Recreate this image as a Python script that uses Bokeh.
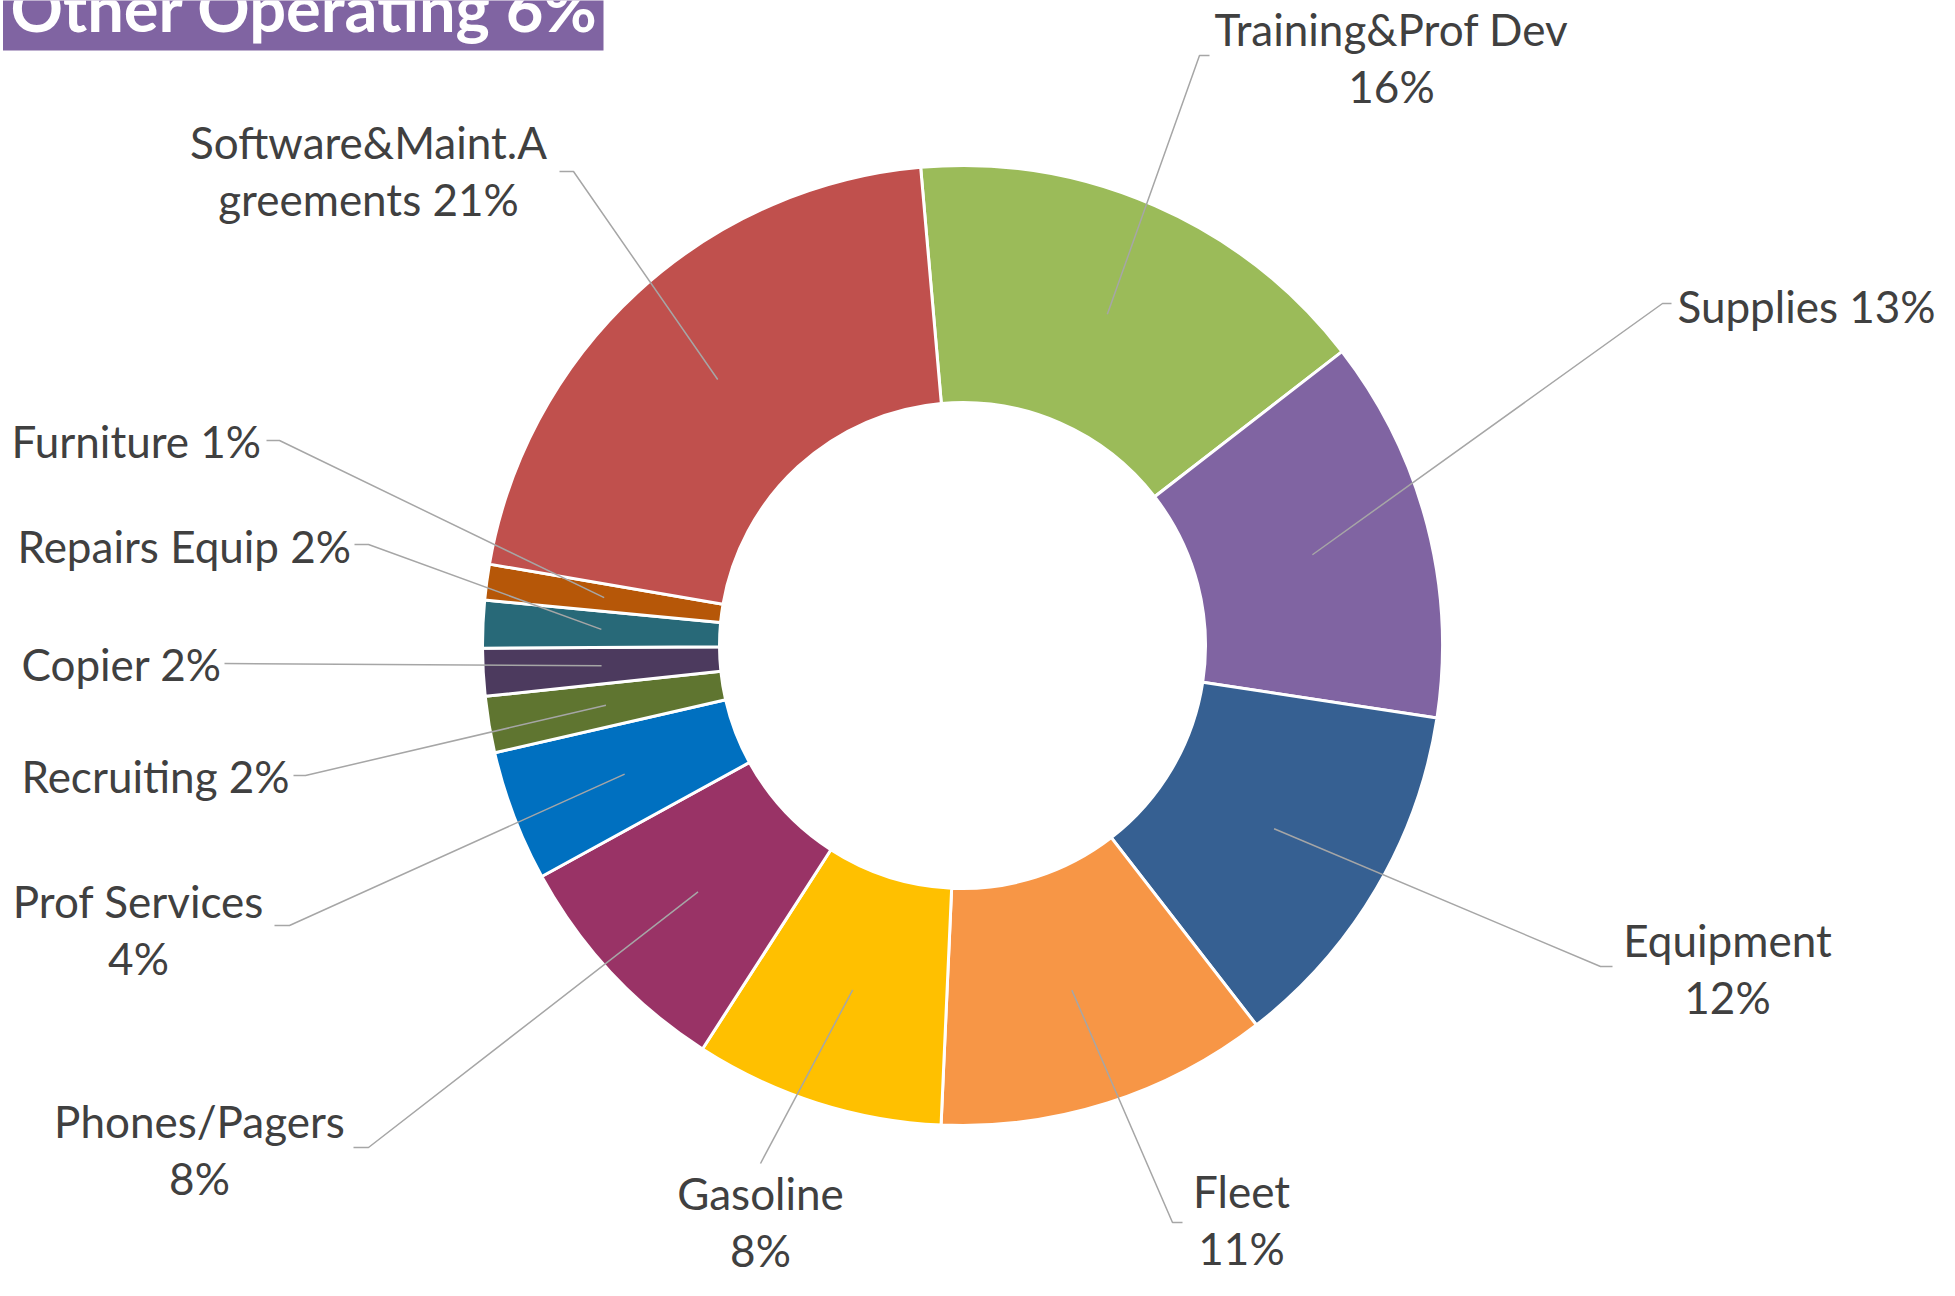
import numpy as np
from bokeh.plotting import figure
from bokeh.models import ColumnDataSource, Range1d, Label
from bokeh.embed import file_html
from bokeh.resources import INLINE
from bokeh.core.properties import value

# ---------------- data ----------------
categories = ["Training&Prof Dev", "Supplies", "Equipment", "Fleet", "Gasoline",
              "Phones/Pagers", "Prof Services", "Recruiting", "Copier",
              "Repairs Equip", "Furniture", "Software&Maint.Agreements"]
shares = [15.9, 12.9, 12.1, 11.2, 8.4, 7.9, 4.4, 1.9, 1.6, 1.6, 1.2, 20.9]
label_texts = ["Training&Prof Dev\n16%", "Supplies 13%", "Equipment\n12%", "Fleet\n11%",
               "Gasoline\n8%", "Phones/Pagers\n8%", "Prof Services\n4%", "Recruiting 2%",
               "Copier 2%", "Repairs Equip 2%", "Furniture 1%",
               "Software&Maint.A\ngreements 21%"]
colors = ["#9BBB59", "#8064A2", "#366092", "#F79646", "#FFC000", "#993366",
          "#0070C0", "#5F7530", "#4C3A5E", "#286978", "#B65708", "#C0504D"]
title_text = "Other Operating 6%"

# ---------------- layout (reference pixel coords, y down) ----------------
W, H = 1955, 1296
PW, PH = 1939, 1280
CX, CY = 962.0, 645.0
R_OUT, R_IN = 480.0, 243.0
START_DEG = -5.0  # first slice starts 5 deg left of 12 o'clock

# label anchor: (x, y of first line, align)
label_pos = [(1391, 28, "center"), (1677, 305, "left"), (1727, 939, "center"),
             (1241, 1190, "center"), (760, 1192, "center"), (199, 1120, "center"),
             (138, 900, "center"), (21, 775, "left"), (21, 663, "left"),
             (17, 545, "left"), (11, 440, "left"), (368, 141, "center")]
# leader: elbow point and end point
leader_pts = [((1199, 55), (1209, 55)), ((1662, 303), (1671, 303)),
              ((1600, 966), (1612, 966)), ((1172, 1222), (1182, 1222)),
              ((760, 1163), (760, 1163)), ((368, 1147), (353, 1147)),
              ((289, 925), (274, 925)), ((305, 775), (293, 775)),
              ((224, 663), (224, 663)), ((368, 544), (354, 544)),
              ((279, 440), (266, 440)), ((573, 171), (559, 171))]
LINE_GAP = 57

# ---------------- geometry from data ----------------
vals = np.array(shares, dtype=float)
frac = vals / vals.sum()
theta_end = START_DEG + np.cumsum(frac) * 360.0
theta_start = theta_end - frac * 360.0
start_ang = np.radians(90.0 - theta_end)
end_ang = np.radians(90.0 - theta_start)

yc = H - CY
wedges = ColumnDataSource(dict(start=start_ang, end=end_ang, color=colors, cat=categories))

p = figure(width=PW, height=PH, x_range=Range1d(0, PW), y_range=Range1d(H - PH, H),
           output_backend="svg", toolbar_location=None, min_border=0)
p.axis.visible = False
p.grid.visible = False
p.outline_line_color = None
p.background_fill_color = "white"

p.annular_wedge(x=CX, y=yc, inner_radius=R_IN, outer_radius=R_OUT,
                start_angle="start", end_angle="end", fill_color="color",
                line_color="white", line_width=3, source=wedges)

# leader lines
mid = np.radians((theta_start + theta_end) / 2.0)
r_mid = (R_IN + R_OUT) / 2.0
sx = CX + r_mid * np.sin(mid)
sy = CY - r_mid * np.cos(mid)
xs, ys = [], []
for i in range(len(categories)):
    (ex, ey), (fx, fy) = leader_pts[i]
    xs.append([sx[i], ex, fx])
    ys.append([H - sy[i], H - ey, H - fy])
p.multi_line(xs=xs, ys=ys, line_color="#A6A6A6", line_width=1.5)

# labels
font = value("Lato")
for align in ("left", "center"):
    tx, ty, tt = [], [], []
    for i, txt in enumerate(label_texts):
        x0, y0, a = label_pos[i]
        if a != align:
            continue
        for k, line in enumerate(txt.split("\n")):
            tx.append(x0)
            ty.append(H - (y0 + k * LINE_GAP))
            tt.append(line)
    p.text(x=tx, y=ty, text=tt, text_font=font, text_font_size="44px",
           text_color="#404040", text_align=align, text_baseline="middle")

# title box
p.quad(left=[2.5], right=[603], top=[H + 10], bottom=[H - 50], fill_color="#8064A2", line_color=None)
p.add_layout(Label(x=10, y=H - 6, text=title_text, text_font="Lato", text_font_style="bold",
                   text_font_size="65px", text_color="white", text_baseline="alphabetic"))

open("out.html", "w").write(file_html(p, INLINE))
